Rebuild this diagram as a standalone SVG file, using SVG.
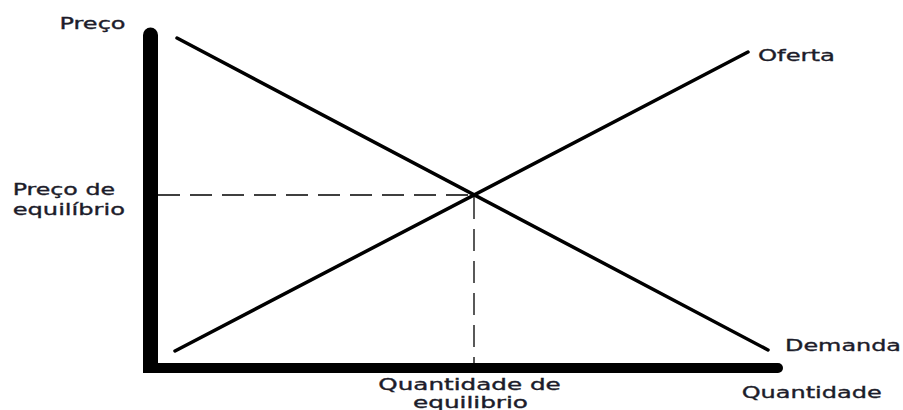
<svg xmlns="http://www.w3.org/2000/svg" width="903" height="410" viewBox="0 0 903 410">
<style>
.lbl{font-family:"DejaVu Sans","Verdana",sans-serif;font-size:16px;fill:#1c1c2a;stroke:#1c1c2a;stroke-width:0.35}
.sm{font-size:15px}
.curve{stroke:#000;stroke-width:3.5;stroke-linecap:round;fill:none}
.dash{stroke:#000;stroke-width:1.3;stroke-dasharray:22 10;fill:none}
.axis{fill:#000}
</style>
<rect width="903" height="410" fill="#fff"/>
<g id="connectors">
<line class="dash" x1="158" y1="195" x2="474" y2="195"/>
<line class="dash" x1="474" y1="197" x2="474" y2="363"/>
</g>
<g id="axes">
<rect class="axis" x="143" y="35" width="15" height="338"/>
<circle class="axis" cx="150.5" cy="35" r="7.5"/>
<rect class="axis" x="143" y="363" width="635" height="10"/>
<circle class="axis" cx="778" cy="368" r="5"/>
</g>
<g id="demanda">
<line class="curve" x1="177" y1="38" x2="768" y2="350"/>
<text class="lbl" x="785" y="350.5" textLength="116" lengthAdjust="spacingAndGlyphs">Demanda</text>
</g>
<g id="oferta">
<line class="curve" x1="175" y1="351" x2="748" y2="52"/>
<text class="lbl" x="758" y="60.5" textLength="77" lengthAdjust="spacingAndGlyphs">Oferta</text>
</g>
<g id="preco">
<text class="lbl" x="59.5" y="29.3" textLength="66" lengthAdjust="spacingAndGlyphs">Preço</text>
</g>
<g id="preco-equilibrio">
<text class="lbl" x="12.7" y="195.3" textLength="102.3" lengthAdjust="spacingAndGlyphs">Preço de</text>
<text class="lbl" x="12.7" y="214.7" textLength="112.3" lengthAdjust="spacingAndGlyphs">equilíbrio</text>
</g>
<g id="quantidade-equilibrio">
<text class="lbl sm" x="378.3" y="390.3" textLength="182.4" lengthAdjust="spacingAndGlyphs">Quantidade de</text>
<text class="lbl sm" x="413" y="407.8" textLength="115" lengthAdjust="spacingAndGlyphs">equilibrio</text>
</g>
<g id="quantidade">
<text class="lbl" x="741.7" y="398" textLength="140" lengthAdjust="spacingAndGlyphs">Quantidade</text>
</g>
</svg>
